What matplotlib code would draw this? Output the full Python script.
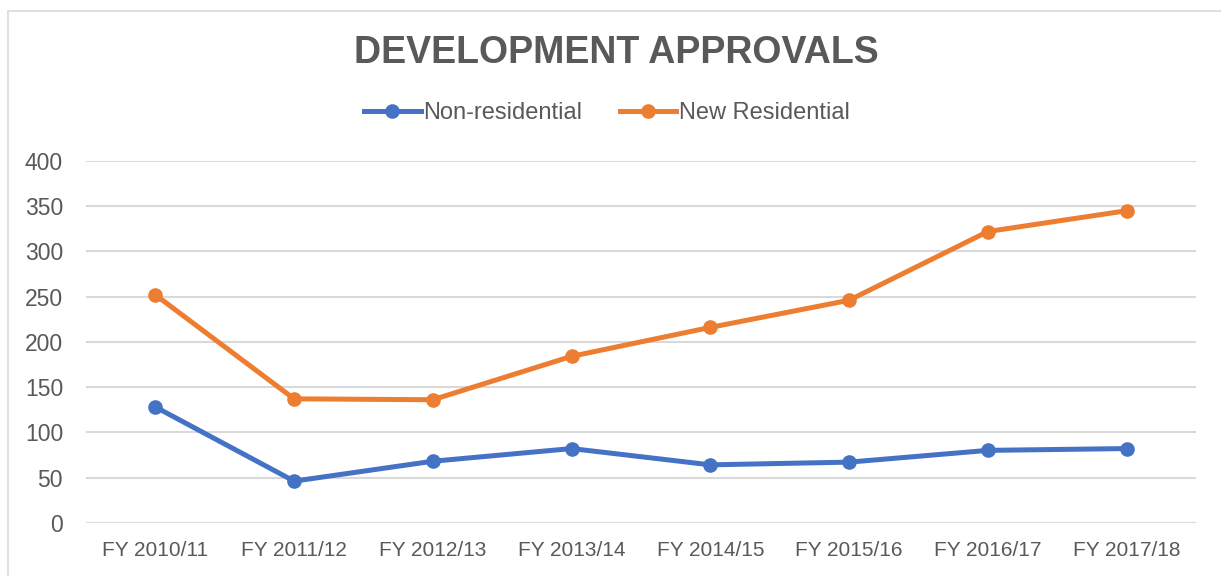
import matplotlib

matplotlib.use("Agg")
import matplotlib.pyplot as plt
from matplotlib.patches import Rectangle

plt.rcParams["font.family"] = ["Liberation Sans", "DejaVu Sans"]

years = ["FY 2010/11", "FY 2011/12", "FY 2012/13", "FY 2013/14",
         "FY 2014/15", "FY 2015/16", "FY 2016/17", "FY 2017/18"]
non_residential = [128, 46, 68, 82, 64, 67, 80, 82]
new_residential = [252, 137, 136, 184, 216, 246, 322, 345]
y_ticks = [0, 50, 100, 150, 200, 250, 300, 350, 400]

TEXT = "#595959"
GRID = "#D9D9D9"

fig = plt.figure(figsize=(12.21, 5.76), dpi=100)
ax = fig.add_axes([0.0704, 0.0925, 0.9091, 0.628])

x = range(len(years))
ax.plot(x, non_residential, color="#4472C4", lw=3.6, marker="o",
        markersize=9.5, label="Non-residential", zorder=3)
ax.plot(x, new_residential, color="#ED7D31", lw=3.6, marker="o",
        markersize=9.5, label="New Residential", zorder=3)

ax.set_xlim(-0.5, len(years) - 0.5)
ax.set_ylim(0, 400)
ax.set_yticks(y_ticks)
ax.set_xticks(list(x))
ax.set_xticklabels(years)
ax.tick_params(axis="both", length=0, labelcolor=TEXT)
ax.tick_params(axis="y", pad=16.5, labelsize=16.5)
ax.tick_params(axis="x", pad=13, labelsize=15)
ax.yaxis.grid(True, color=GRID, lw=1.5)
ax.set_axisbelow(True)
for spine in ax.spines.values():
    spine.set_visible(False)

fig.text(0.505, 1 - 53 / 576, "DEVELOPMENT APPROVALS", ha="center",
         va="center", fontsize=27, fontweight="bold", color=TEXT)
fig.legend(loc="center", bbox_to_anchor=(0.497, 1 - 113 / 576), ncol=2,
           frameon=False, fontsize=17, labelcolor=TEXT, handlelength=2.4,
           handletextpad=0.1, columnspacing=1.6)

fig.add_artist(Rectangle((8 / 1221, -0.05), 1.1, 1.05 - 11 / 576,
                         transform=fig.transFigure, fill=False,
                         edgecolor=GRID, lw=1.2))

fig.savefig("out.png", dpi=100)
